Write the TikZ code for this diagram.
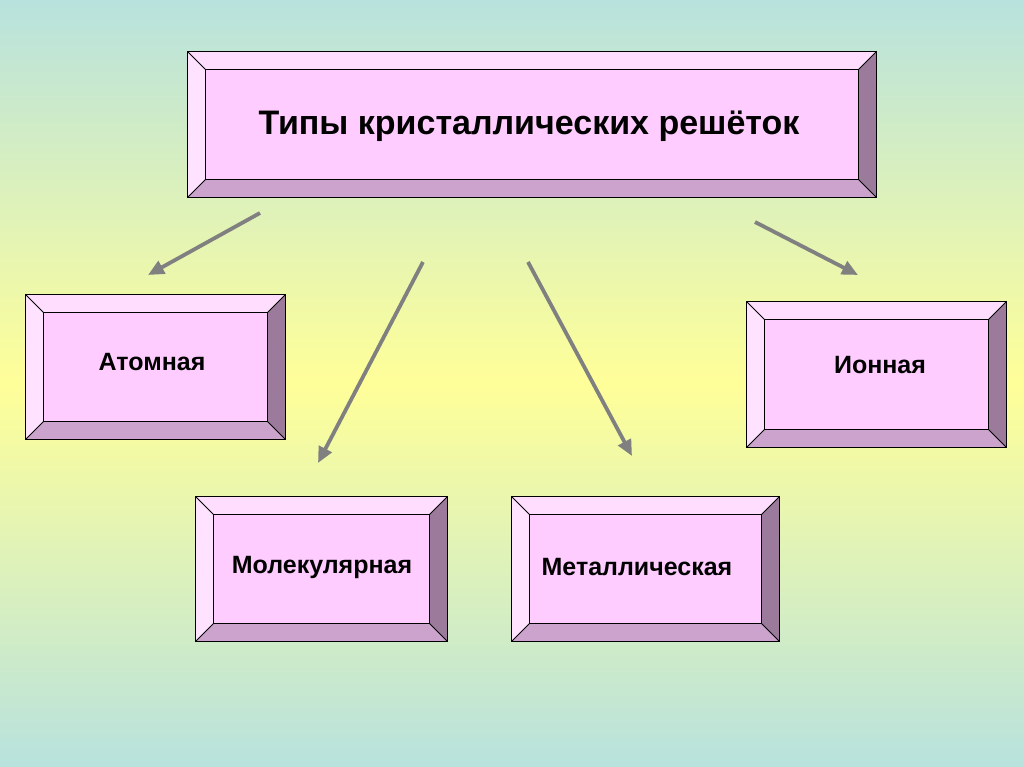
\documentclass[tikz,border=0pt]{standalone}
\usepackage{fontspec}
\setmainfont{Liberation Sans}
\usetikzlibrary{arrows.meta,calc}
\definecolor{bgteal}{RGB}{184,226,222}
\definecolor{bgyel}{RGB}{255,255,153}
\definecolor{face}{RGB}{255,204,255}
\definecolor{bevtop}{RGB}{255,221,255}
\definecolor{bevleft}{RGB}{255,226,255}
\definecolor{bevright}{RGB}{156,122,156}
\definecolor{bevbot}{RGB}{204,163,204}
\definecolor{arr}{RGB}{128,128,128}
\tikzset{
  bbox/.style={draw=black, line width=0.8pt, fill=face, inner sep=0pt, rectangle},
  lbl/.style={font=\bfseries\fontsize{25}{30}\selectfont, text=black},
  ttl/.style={font=\bfseries\fontsize{34}{40}\selectfont, text=black, anchor=base},
  conn/.style={draw=arr, line width=3.8pt, -{Triangle[length=16pt,width=14pt]}},
  bedge/.style={draw=black, line width=0.8pt}
}
\newcommand\bevelit[2]{%
  \path (#1.north west) coordinate (#1-a) (#1.north east) coordinate (#1-b)
        (#1.south east) coordinate (#1-c) (#1.south west) coordinate (#1-d)
        ($(#1.north west)+(#2,-#2)$) coordinate (#1-ia)
        ($(#1.north east)+(-#2,-#2)$) coordinate (#1-ib)
        ($(#1.south east)+(-#2,#2)$) coordinate (#1-ic)
        ($(#1.south west)+(#2,#2)$) coordinate (#1-id);
  \fill[bevtop] (#1-a) -- (#1-b) -- (#1-ib) -- (#1-ia) -- cycle;
  \fill[bevright] (#1-b) -- (#1-c) -- (#1-ic) -- (#1-ib) -- cycle;
  \fill[bevbot] (#1-c) -- (#1-d) -- (#1-id) -- (#1-ic) -- cycle;
  \fill[bevleft] (#1-d) -- (#1-a) -- (#1-ia) -- (#1-id) -- cycle;
  \draw[bedge] (#1-a) -- (#1-b) -- (#1-c) -- (#1-d) -- cycle;
  \draw[bedge] (#1-ia) -- (#1-ib) -- (#1-ic) -- (#1-id) -- cycle;
  \draw[bedge] (#1-a) -- (#1-ia) (#1-b) -- (#1-ib) (#1-c) -- (#1-ic) (#1-d) -- (#1-id);
}
\begin{document}
\begin{tikzpicture}[x=1pt,y=-1pt]
\useasboundingbox (0,0) rectangle (1024,767);
\shade[top color=bgteal, bottom color=bgteal, middle color=bgyel] (0,0) rectangle (1024,767);
% boxes
\node[bbox, minimum width=688pt, minimum height=145pt] (title) at (532,124.5) {};
\bevelit{title}{18pt}
\node[bbox, minimum width=259pt, minimum height=144pt] (atom) at (155.5,367) {};
\bevelit{atom}{18pt}
\node[bbox, minimum width=259pt, minimum height=145pt] (ion) at (876.5,374.5) {};
\bevelit{ion}{18pt}
\node[bbox, minimum width=251pt, minimum height=144pt] (mol) at (321.5,569) {};
\bevelit{mol}{18pt}
\node[bbox, minimum width=267pt, minimum height=144pt] (met) at (645.5,569) {};
\bevelit{met}{18pt}
% texts
\node[ttl] (title-t) at (529,135) {Типы кристаллических решёток};
\node[lbl] (atom-t) at (152,362) {Атомная};
\node[lbl] (ion-t) at (880,365) {Ионная};
\node[lbl] (mol-t) at (322,567) {Молекулярная};
\node[lbl] (met-t) at (637,567) {Металлическая};
% connector ends
\coordinate (a1s) at (260,213); \coordinate (a1e) at (148,275);
\coordinate (a2s) at (423,262); \coordinate (a2e) at (318,463);
\coordinate (a3s) at (528,262); \coordinate (a3e) at (632,456);
\coordinate (a4s) at (755,222); \coordinate (a4e) at (858,275);
\draw[conn] (a1s) -- (a1e);
\draw[conn] (a2s) -- (a2e);
\draw[conn] (a3s) -- (a3e);
\draw[conn] (a4s) -- (a4e);
\end{tikzpicture}
\end{document}
